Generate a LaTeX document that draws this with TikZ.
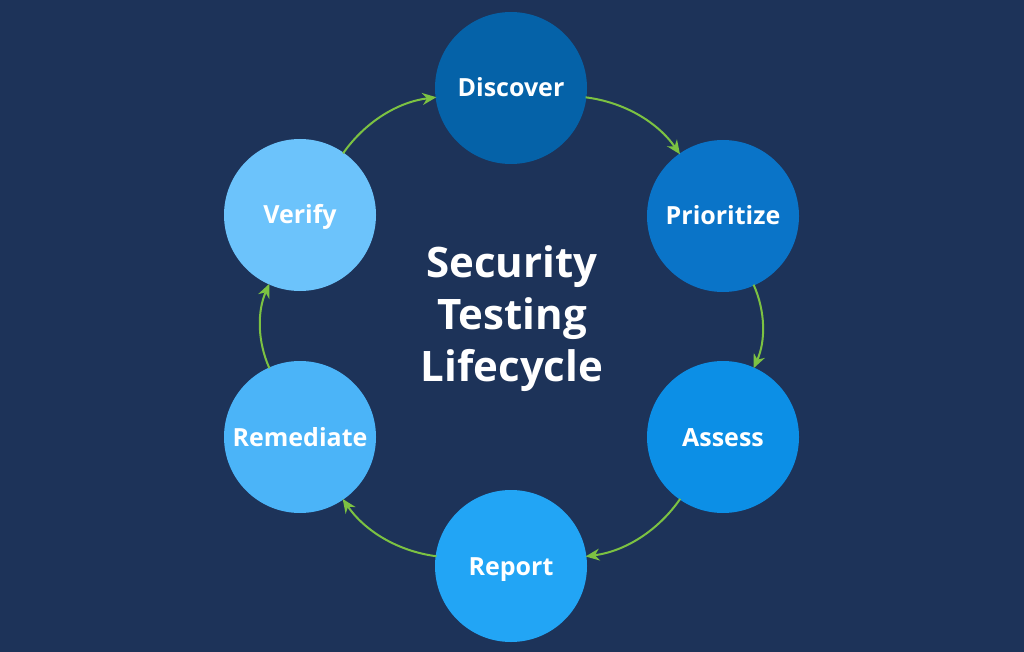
\documentclass[tikz,border=0pt]{standalone}
\usepackage{fontspec}
\setmainfont{Open Sans}
\usetikzlibrary{arrows.meta}
\definecolor{bg}{HTML}{1D3359}
\definecolor{cA}{HTML}{0562A8}
\definecolor{cB}{HTML}{0A74C8}
\definecolor{cC}{HTML}{0C8FE6}
\definecolor{cD}{HTML}{22A5F5}
\definecolor{cE}{HTML}{4BB4F8}
\definecolor{cF}{HTML}{6CC3FB}
\definecolor{arr}{HTML}{7CC242}
\tikzset{
  phase/.style={circle, minimum size=152pt, inner sep=0pt, text=white,
    font=\fontsize{25}{30}\selectfont\bfseries, text height=18pt, text depth=0pt},
  flow/.style={draw=arr, line width=2pt, -{Stealth[length=14pt,width=12pt]}, bend left=24, looseness=0.9, shorten <=-1pt, shorten >=-1pt}
}
\begin{document}
\begin{tikzpicture}[x=1pt,y=-1pt]
\fill[bg] (0,0) rectangle (1024,652);
\useasboundingbox (0,0) rectangle (1024,652);
\node[phase, fill=cA] (disc) at (511,88) {Discover};
\node[phase, fill=cB] (prio) at (723,216) {Prioritize};
\node[phase, fill=cC] (assess) at (723,437) {Assess};
\node[phase, fill=cD] (report) at (511,566) {Report};
\node[phase, fill=cE] (remed) at (300,437) {Remediate};
\node[phase, fill=cF] (verify) at (300,215) {Verify};
\node[text=white, align=center, font=\fontsize{42}{52}\selectfont\bfseries] (title) at (512,319) {Security\\Testing\\Lifecycle};
\draw[flow] (disc) to (prio);
\draw[flow] (prio) to (assess);
\draw[flow] (assess) to (report);
\draw[flow] (report) to (remed);
\draw[flow] (remed) to (verify);
\draw[flow] (verify) to (disc);
\end{tikzpicture}
\end{document}
